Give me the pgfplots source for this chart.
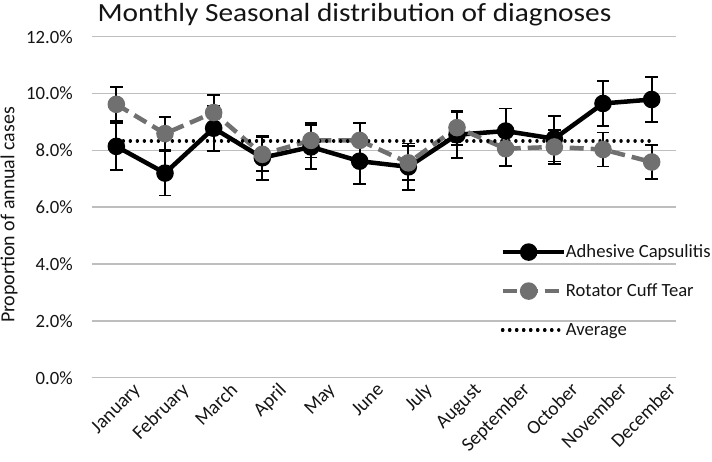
\documentclass[border=0pt]{standalone}
\usepackage{graphicx}
\usepackage{pgfplots}
\pgfplotsset{compat=1.18}
\usepackage{fontspec}
\setmainfont{Carlito}
\definecolor{rcgrey}{RGB}{112,112,112}
\definecolor{gridgrey}{RGB}{190,190,190}
\definecolor{txt}{RGB}{20,20,20}
\begin{document}
\begin{tikzpicture}
\begin{axis}[
  name=ax,
  scale only axis,
  width=584bp, height=341bp,
  xmin=-0.5, xmax=11.5,
  ymin=0, ymax=12,
  xtick={0,...,11},
  xticklabels={January,February,March,April,May,June,July,August,September,October,November,December},
  ytick={0,2,...,12},
  /pgf/number format/assume math mode=true,
  yticklabel={\pgfmathprintnumber[fixed,fixed zerofill,precision=1]{\tick}\%},
  ymajorgrids,
  grid style={gridgrey, line width=1.5bp},
  axis line style={draw=none},
  major tick length=0pt,
  tick label style={text=txt},
  yticklabel style={font=\fontsize{18.8}{20}\selectfont, inner sep=0pt, xshift=-19bp},
  xticklabel style={rotate=45, anchor=base east, inner sep=0pt, xshift=8.4bp, yshift=-27bp, font=\fontsize{19.5}{21}\selectfont},
  ylabel={Proportion of annual cases},
  ylabel style={font=\fontsize{20}{22}\selectfont, text=txt, at={(rel axis cs:-0.142,0.477)}, anchor=center},
  title={\scalebox{1.12}[1]{Monthly Seasonal distribution of diagnoses}},
  title style={font=\fontsize{26.3}{30}\selectfont, text=txt, at={(0.4495,1)}, anchor=base, yshift=9bp, inner sep=0pt},
  legend style={draw=none, fill=none, at={(0.699,0.254)}, anchor=west, text=txt,
    font=\fontsize{18.7}{21}\selectfont, row sep=19bp, inner sep=0pt,
    nodes={inner sep=0pt, text height=15bp, text depth=5bp}},
  legend cell align=left,
  legend image code/.code={%
    \draw[mark repeat=2,mark phase=2,#1] plot coordinates {(0bp,0bp) (26bp,0bp) (52bp,0bp)};
    \path (0bp,0bp) -- (61bp,0bp);
  },
]
% Adhesive Capsulitis
\addplot[black, line width=4.5bp, mark=*, mark size=6.5bp, mark options={solid, fill=black},
  error bars/.cd, y dir=both, y explicit,
  error bar style={solid, black, line width=1.8bp},
  error mark options={solid, black, rotate=90, line width=1.8bp, mark size=6.2bp}]
coordinates {
 (0,8.14) +- (0,0.83)
 (1,7.20) +- (0,0.79)
 (2,8.78) +- (0,0.79)
 (3,7.74) +- (0,0.78)
 (4,8.12) +- (0,0.78)
 (5,7.62) +- (0,0.81)
 (6,7.42) +- (0,0.82)
 (7,8.55) +- (0,0.81)
 (8,8.68) +- (0,0.79)
 (9,8.41) +- (0,0.80)
 (10,9.65) +- (0,0.80)
 (11,9.79) +- (0,0.80)
};
\addlegendentry{Adhesive Capsulitis}
% Rotator Cuff Tear
\addplot[rcgrey, line width=4.5bp, dash pattern=on 14bp off 7bp, mark=*, mark size=6.5bp, mark options={solid, fill=rcgrey},
  error bars/.cd, y dir=both, y explicit,
  error bar style={solid, black, line width=1.8bp},
  error mark options={solid, black, rotate=90, line width=1.8bp, mark size=6.2bp}]
coordinates {
 (0,9.62) +- (0,0.60)
 (1,8.59) +- (0,0.59)
 (2,9.33) +- (0,0.61)
 (3,7.86) +- (0,0.60)
 (4,8.35) +- (0,0.60)
 (5,8.35) +- (0,0.60)
 (6,7.56) +- (0,0.59)
 (7,8.80) +- (0,0.60)
 (8,8.06) +- (0,0.60)
 (9,8.12) +- (0,0.60)
 (10,8.03) +- (0,0.60)
 (11,7.59) +- (0,0.60)
};
\addlegendentry{Rotator Cuff Tear}
% Average
\addplot[black, line width=3.4bp, line cap=round, dash pattern=on 0.01bp off 7bp, no markers] coordinates {(0,8.333) (11,8.333)};
\addlegendentry{Average}
\end{axis}
\pgfresetboundingbox
\path[use as bounding box] ([xshift=-92bp,yshift=-84.3bp]ax.south west) rectangle ([xshift=36bp,yshift=36.7bp]ax.north east);
\end{tikzpicture}
\end{document}
